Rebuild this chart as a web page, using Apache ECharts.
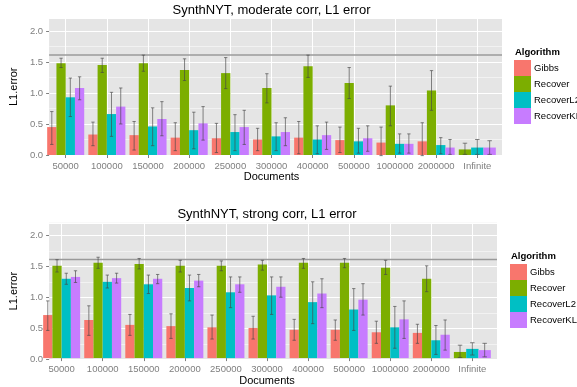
<!DOCTYPE html>
<html>
<head>
<meta charset="utf-8">
<script src="https://cdn.jsdelivr.net/npm/echarts@6/dist/echarts.min.js"></script>
<style>
  html, body { margin: 0; padding: 0; background: #fff; }
  #chart { width: 577px; height: 387px; }
</style>
</head>
<body>
<div id="chart"></div>
<script>
const categories = ['50000', '100000', '150000', '200000', '250000', '300000', '400000', '500000', '1000000', '2000000', 'Infinite'];
const algorithms = ['Gibbs', 'Recover', 'RecoverL2', 'RecoverKL'];
const colors = ['#F8766D', '#7CAE00', '#00BFC4', '#C77CFF'];

// moderate corr
const modGibbs     = [0.45, 0.33, 0.32, 0.28, 0.27, 0.25, 0.28, 0.24, 0.20, 0.22, null];
const modGibbsLo   = [0.17, 0.15, 0.08, 0.07, 0.04, 0.07, 0.02, 0.04, -0.01, -0.01, null];
const modGibbsHi   = [0.70, 0.53, 0.54, 0.52, 0.51, 0.43, 0.54, 0.45, 0.45, 0.52, null];
const modRecover   = [1.48, 1.45, 1.48, 1.37, 1.32, 1.08, 1.43, 1.16, 0.80, 1.04, 0.09];
const modRecoverLo = [1.41, 1.33, 1.35, 1.20, 1.07, 0.84, 1.25, 0.91, 0.47, 0.72, 0.01];
const modRecoverHi = [1.56, 1.56, 1.61, 1.55, 1.57, 1.31, 1.61, 1.41, 1.11, 1.36, 0.19];
const modL2        = [0.93, 0.66, 0.46, 0.40, 0.37, 0.30, 0.25, 0.22, 0.18, 0.16, 0.12];
const modL2Lo      = [0.62, 0.30, 0.15, 0.10, 0.07, 0.07, 0.02, 0.03, 0.03, 0.02, 0.01];
const modL2Hi      = [1.24, 1.01, 0.76, 0.69, 0.65, 0.52, 0.47, 0.43, 0.34, 0.28, 0.25];
const modKL        = [1.08, 0.78, 0.58, 0.51, 0.45, 0.37, 0.32, 0.27, 0.18, 0.12, 0.12];
const modKLLo      = [0.89, 0.50, 0.31, 0.24, 0.17, 0.15, 0.09, 0.06, 0.03, 0.01, 0.01];
const modKLHi      = [1.26, 1.08, 0.86, 0.78, 0.72, 0.60, 0.53, 0.47, 0.34, 0.25, 0.23];
const modBaseline  = 1.61;

// strong corr
const strGibbs     = [0.70, 0.62, 0.54, 0.52, 0.50, 0.49, 0.46, 0.46, 0.42, 0.41, null];
const strGibbsLo   = [0.45, 0.37, 0.37, 0.32, 0.31, 0.31, 0.29, 0.29, 0.24, 0.24, null];
const strGibbsHi   = [0.93, 0.85, 0.71, 0.72, 0.70, 0.68, 0.63, 0.62, 0.60, 0.55, null];
const strRecover   = [1.50, 1.55, 1.53, 1.50, 1.50, 1.52, 1.55, 1.55, 1.47, 1.29, 0.10];
const strRecoverLo = [1.40, 1.46, 1.45, 1.40, 1.42, 1.43, 1.46, 1.47, 1.36, 1.08, 0.01];
const strRecoverHi = [1.60, 1.64, 1.62, 1.59, 1.58, 1.59, 1.62, 1.62, 1.59, 1.50, 0.21];
const strL2        = [1.29, 1.24, 1.20, 1.14, 1.07, 1.02, 0.91, 0.79, 0.50, 0.29, 0.15];
const strL2Lo      = [1.20, 1.14, 1.05, 0.93, 0.82, 0.71, 0.56, 0.45, 0.16, 0.06, 0.05];
const strL2Hi      = [1.38, 1.35, 1.35, 1.35, 1.32, 1.32, 1.24, 1.13, 0.84, 0.53, 0.25];
const strKL        = [1.32, 1.30, 1.29, 1.26, 1.20, 1.16, 1.05, 0.95, 0.63, 0.38, 0.13];
const strKLLo      = [1.23, 1.22, 1.21, 1.16, 1.07, 0.99, 0.82, 0.70, 0.32, 0.13, 0.02];
const strKLHi      = [1.42, 1.38, 1.36, 1.36, 1.32, 1.32, 1.29, 1.21, 0.93, 0.62, 0.24];
const strBaseline  = 1.61;

const panels = [
  {
    title: 'SynthNYT, moderate corr, L1 error',
    means: [modGibbs, modRecover, modL2, modKL],
    lows: [modGibbsLo, modRecoverLo, modL2Lo, modKLLo],
    highs: [modGibbsHi, modRecoverHi, modL2Hi, modKLHi],
    baseline: modBaseline,
    // layout
    left: 41, width: 461, top: 18.5, height: 136.5,
    titleX: 271.5, titleY: 4, legendX: 514, legendY: 60, nameGap: 21.5
  },
  {
    title: 'SynthNYT, strong corr, L1 error',
    means: [strGibbs, strRecover, strL2, strKL],
    lows: [strGibbsLo, strRecoverLo, strL2Lo, strKLLo],
    highs: [strGibbsHi, strRecoverHi, strL2Hi, strKLHi],
    baseline: strBaseline,
    left: 37, width: 460, top: 222.8, height: 136.7,
    titleX: 267, titleY: 208, legendX: 510, legendY: 264, nameGap: 20.5
  }
];

const font = 'Liberation Sans, Arial, sans-serif';
const grey = '#7F7F7F';

function barRenderer(means, k) {
  return function (params, api) {
    const ci = api.value(0);
    const present = [];
    means.forEach((m, j) => { if (m[ci] != null) present.push(j); });
    const n = present.length;
    const slot = present.indexOf(k);
    const band = api.size([1, 0])[0];
    const groupW = band * 0.9;
    const w = groupW / n;
    const base = api.coord([ci, 0]);
    const top = api.coord([ci, api.value(1)]);
    const x0 = base[0] - groupW / 2 + slot * w;
    const xm = x0 + w / 2;
    const cap = w * 0.18;
    const lo = api.coord([ci, api.value(2)])[1];
    const hi = api.coord([ci, api.value(3)])[1];
    const err = { stroke: 'rgba(70,70,70,0.65)', lineWidth: 1 };
    return {
      type: 'group',
      children: [
        { type: 'rect', shape: { x: x0, y: top[1], width: w, height: base[1] - top[1] }, style: { fill: api.visual('color') } },
        { type: 'line', shape: { x1: xm, y1: lo, x2: xm, y2: hi }, style: err },
        { type: 'line', shape: { x1: xm - cap, y1: lo, x2: xm + cap, y2: lo }, style: err },
        { type: 'line', shape: { x1: xm - cap, y1: hi, x2: xm + cap, y2: hi }, style: err }
      ]
    };
  };
}

const grid = [], xAxis = [], yAxis = [], series = [], title = [], legend = [];

panels.forEach((p, pi) => {
  const band = p.width / (categories.length + 0.2);
  const wideGrid = grid.length;
  grid.push({ left: p.left, top: p.top, width: p.width, height: p.height, show: true, backgroundColor: '#E5E5E5', borderWidth: 0 });
  const narrowGrid = grid.length;
  grid.push({ left: p.left + 0.6 * band, top: p.top, width: band * (categories.length - 1), height: p.height });

  // wide grid: visible y axis, minor lines, hidden x
  const wideX = xAxis.length;
  xAxis.push({ gridIndex: wideGrid, type: 'value', min: 0, max: 1, show: false });
  const minorY = yAxis.length;
  yAxis.push({
    gridIndex: wideGrid, type: 'value', position: 'left', min: 0, max: 2.2, interval: 0.25,
    axisLine: { show: false }, axisTick: { show: false }, axisLabel: { show: false },
    splitLine: { show: true, lineStyle: { color: '#F2F2F2', width: 1 } }
  });
  const mainY = yAxis.length;
  yAxis.push({
    gridIndex: wideGrid, type: 'value', position: 'left', offset: 0, min: 0, max: 2.2, interval: 0.5,
    name: 'L1.error', nameLocation: 'middle', nameGap: p.nameGap,
    nameTextStyle: { fontSize: 11, color: '#000', fontFamily: font },
    axisLine: { show: false },
    axisTick: { show: true, length: 3, lineStyle: { color: grey } },
    axisLabel: { fontSize: 9.5, color: grey, margin: 6, fontFamily: font, showMaxLabel: false, formatter: v => v.toFixed(1) },
    splitLine: { show: true, lineStyle: { color: '#FFFFFF', width: 1 } }
  });

  // narrow grid: category axis at ggplot positions
  const catX = xAxis.length;
  xAxis.push({
    gridIndex: narrowGrid, type: 'category', data: categories, boundaryGap: false,
    name: 'Documents', nameLocation: 'middle', nameGap: 15,
    nameTextStyle: { fontSize: 11, color: '#000', fontFamily: font },
    axisLine: { show: false },
    axisTick: { show: true, length: 3, lineStyle: { color: grey } },
    axisLabel: { fontSize: 9.5, color: grey, margin: 6, interval: 0, fontFamily: font },
    splitLine: { show: true, interval: 0, lineStyle: { color: '#FFFFFF', width: 1 } }
  });
  const barY = yAxis.length;
  yAxis.push({ gridIndex: narrowGrid, type: 'value', min: 0, max: 2.2, show: false, splitLine: { show: false } });

  series.push({
    type: 'line', xAxisIndex: wideX, yAxisIndex: mainY, silent: true, symbol: 'none',
    data: [[0, p.baseline], [1, p.baseline]],
    lineStyle: { color: '#9A9A9A', width: 1.5 }, z: 3
  });

  algorithms.forEach((name, k) => {
    const data = [];
    p.means[k].forEach((v, i) => {
      if (v != null) data.push([i, v, p.lows[k][i], p.highs[k][i]]);
    });
    series.push({
      type: 'custom', name: name, xAxisIndex: catX, yAxisIndex: barY,
      itemStyle: { color: colors[k] },
      encode: { x: 0, y: 1 },
      renderItem: barRenderer(p.means, k),
      data: data, z: 4
    });
  });

  title.push({
    text: p.title, left: p.titleX, top: p.titleY, textAlign: 'center', padding: 0,
    textStyle: { fontSize: 13, fontWeight: 'normal', color: '#000', fontFamily: font }
  });
  title.push({
    text: 'Algorithm', left: p.legendX + 1, top: p.legendY - 13, padding: 0,
    textStyle: { fontSize: 9.5, fontWeight: 'bold', color: '#000', fontFamily: font }
  });
  legend.push({
    data: algorithms, orient: 'vertical', left: p.legendX, top: p.legendY,
    icon: 'rect', itemWidth: 17, itemHeight: 16, itemGap: 0, padding: 0,
    textStyle: { fontSize: 9.5, color: '#000', fontFamily: font, padding: [0, 0, 0, -2] }
  });
});

const chart = echarts.init(document.getElementById('chart'));
chart.setOption({
  animation: false,
  textStyle: { fontFamily: font },
  title: title,
  legend: legend,
  grid: grid,
  xAxis: xAxis,
  yAxis: yAxis,
  series: series
});
window.addEventListener('resize', () => chart.resize());
</script>
</body>
</html>
